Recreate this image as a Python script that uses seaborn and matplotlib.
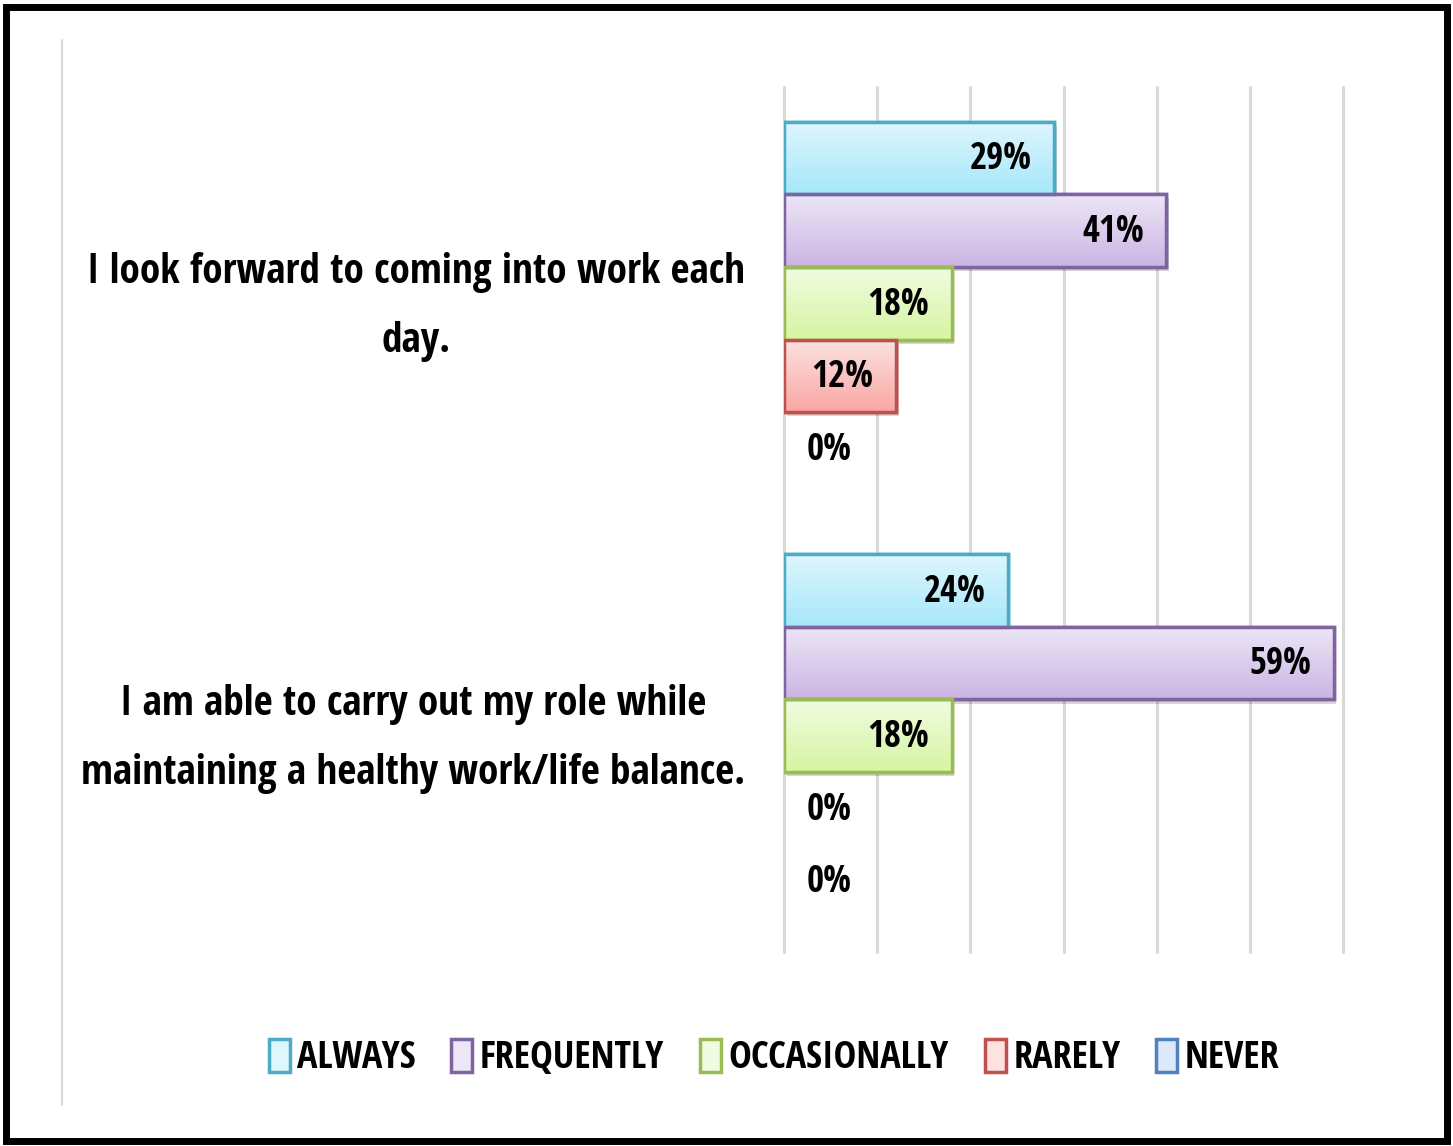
import numpy as np
import pandas as pd
import matplotlib
matplotlib.use("Agg")
import matplotlib.pyplot as plt
import matplotlib.patheffects as pe
from matplotlib.patches import Rectangle, Patch
from matplotlib.lines import Line2D
import seaborn as sns

# Survey statements and response shares (percent)
statements = [
    "I look forward to coming into work each\nday.",
    "I am able to carry out my role while\nmaintaining a healthy work/life balance.",
]
responses = ["ALWAYS", "FREQUENTLY", "OCCASIONALLY", "RARELY", "NEVER"]
always = [29, 24]
frequently = [41, 59]
occasionally = [18, 18]
rarely = [12, 0]
never = [0, 0]

# Edge colour, gradient top colour, gradient bottom colour per response
edge_colors = ["#4bacc6", "#8064a2", "#9bbb59", "#c0504d", "#4f81bd"]
top_colors = ["#def6fd", "#ece6f6", "#f1fbe2", "#fde2e0", "#dde8fb"]
bottom_colors = ["#a6e7fa", "#cbb5e3", "#d6f5a0", "#f8a7a3", "#a9c4f4"]

FONT = ["Open Sans Condensed", "DejaVu Sans"]
LABEL_SIZE = 29.7
VALUE_SIZE = 26.5
LEGEND_SIZE = 27.5

sns.set_theme(style="white")
plt.rcParams["font.family"] = FONT
plt.rcParams["font.weight"] = "bold"
plt.rcParams["text.color"] = "black"

values = [always, frequently, occasionally, rarely, never]
df = pd.DataFrame({
    "statement": np.repeat(statements, len(responses)),
    "response": responses * len(statements),
    "pct": [values[r][s] for s in range(len(statements)) for r in range(len(responses))],
})

fig = plt.figure(figsize=(14.53, 11.46), dpi=100)
ax = fig.add_axes([784 / 1453, 1 - 952 / 1146, 559 / 1453, 865 / 1146])

sns.barplot(data=df, y="statement", x="pct", hue="response",
            hue_order=responses, order=statements, orient="h",
            palette=edge_colors, width=0.84, legend=False, ax=ax,
            saturation=1)

ax.set_xlim(0, 60)
ax.set_xticks(np.arange(0, 61, 10))
ax.set_xticklabels([])
ax.tick_params(axis="x", length=0)
ax.tick_params(axis="y", length=0)
ax.grid(axis="x", color="#d9d9d9", linewidth=2.2)
ax.grid(axis="y", visible=False)
for gl in ax.get_xgridlines():
    gl.set_clip_on(False)
for sp in ax.spines.values():
    sp.set_visible(False)
ax.set_xlabel("")
ax.set_ylabel("")

# Statement labels, centred lines, right-aligned against the plot area
ytick_pos = ax.get_yticks()
ytick_txt = [t.get_text() for t in ax.get_yticklabels()]
ax.set_yticklabels([])
for pos, txt in zip(ytick_pos, ytick_txt):
    ax.annotate(txt, (0, pos), xycoords=("axes fraction", "data"),
                xytext=(-28, -2.5), textcoords="offset points",
                ha="right", va="center", multialignment="center",
                linespacing=1.9, fontsize=LABEL_SIZE, fontweight="bold",
                color="black", annotation_clip=False)

ylim = ax.get_ylim()
shadow = [pe.SimplePatchShadow(offset=(2, -3), shadow_rgbFace="#000000", alpha=0.16),
          pe.Normal()]

for cont, edge, ctop, cbot in zip(ax.containers, edge_colors, top_colors, bottom_colors):
    for bar, val in zip(cont, cont.datavalues):
        x0, y0 = bar.get_x(), bar.get_y()
        w, h = bar.get_width(), bar.get_height()
        cy = y0 + h / 2
        if w <= 0:
            bar.set_visible(False)
            ax.annotate(f"{val:.0f}%", (0, cy), xytext=(16, -1),
                        textcoords="offset points", ha="left", va="center",
                        fontsize=VALUE_SIZE, fontweight="bold", color="black")
            continue
        bar.set_facecolor("white")
        bar.set_edgecolor(edge)
        bar.set_linewidth(2.5)
        bar.set_path_effects(shadow)
        c_top = np.array(matplotlib.colors.to_rgb(ctop))
        c_bot = np.array(matplotlib.colors.to_rgb(cbot))
        grad = np.linspace(c_top, c_bot, 64)[:, None, :]
        im = ax.imshow(grad, extent=(x0, x0 + w, y0 + h, y0), origin="upper",
                       aspect="auto", interpolation="bilinear", zorder=bar.get_zorder() + 0.1)
        im.set_clip_path(bar)
        ax.add_patch(Rectangle((x0, y0), w, h, facecolor="none", edgecolor=edge,
                               linewidth=2.5, zorder=bar.get_zorder() + 0.2))
        ax.annotate(f"{val:.0f}%", (val, cy), xytext=(-16, -1),
                    textcoords="offset points", ha="right", va="center",
                    fontsize=VALUE_SIZE, fontweight="bold", color="black",
                    zorder=bar.get_zorder() + 0.3)

ax.set_xlim(0, 60)
ax.set_ylim(ylim)

# Legend along the bottom
handles = [Patch(facecolor=tc, edgecolor=ec, linewidth=2.5)
           for tc, ec in zip(top_colors, edge_colors)]
fig.legend(handles, responses, loc="center", bbox_to_anchor=(774 / 1453, 1 - 1058 / 1146),
           ncol=5, frameon=False, handlelength=0.55, handleheight=0.95,
           handletextpad=0.2, columnspacing=0.93, labelcolor="black",
           prop={"family": FONT, "weight": "bold", "size": LEGEND_SIZE})

# Thin plot-area line on the left and the outer black frame
fig.add_artist(Line2D([62 / 1453, 62 / 1453], [1 - 40 / 1146, 1 - 1105 / 1146],
                      transform=fig.transFigure, color="#d9d9d9", linewidth=1.5))
fig.add_artist(Rectangle((0.004, 0.004), 0.992, 0.99, transform=fig.transFigure,
                         facecolor="none", edgecolor="black", linewidth=5))

fig.savefig("out.png", dpi=100)
